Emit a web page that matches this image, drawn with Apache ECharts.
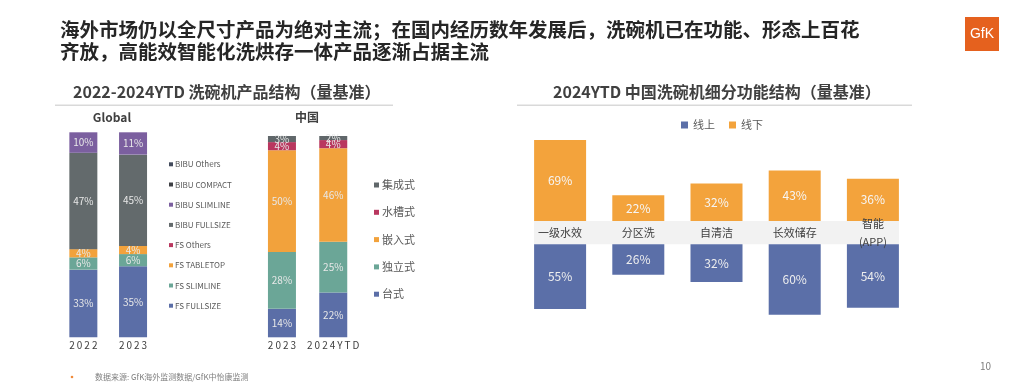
<!DOCTYPE html>
<html>
<head>
<meta charset="utf-8">
<script src="https://cdn.jsdelivr.net/npm/echarts@6/dist/echarts.min.js"></script>
<style>html,body{margin:0;padding:0;background:#fff}#c{width:1024px;height:388px}</style>
</head>
<body>
<div id="c"></div>
<script>
// ---- data ----
const globalCats = ['2022', '2023'];
const globalNames = ['FS FULLSIZE', 'FS SLIMLINE', 'FS TABLETOP', 'FS Others', 'BIBU FULLSIZE', 'BIBU SLIMLINE', 'BIBU COMPACT', 'BIBU Others'];
const fsFullsize = [33, 35];
const fsSlimline = [6, 6];
const fsTabletop = [4, 4];
const fsOthers = [0, 0];
const bibuFullsize = [47, 45];
const bibuSlimline = [10, 11];
const bibuCompact = [0, 0];
const bibuOthers = [0, 0];

const cnCats = ['2023', '2024YTD'];
const cnNames = ['台式', '独立式', '嵌入式', '水槽式', '集成式'];
const cnTaishi = [14, 22];
const cnDuli = [28, 25];
const cnQianru = [50, 46];
const cnShuicao = [4, 4];
const cnJicheng = [3, 2];

const funcCats = ['一级水效', '分区洗', '自清洁', '长效储存', '智能\n(APP)'];
const online = [55, 26, 32, 60, 54];
const offline = [69, 22, 32, 43, 36];

// ---- styles ----
const FONT = '"Noto Sans CJK SC", "Noto Sans", sans-serif';
const globalColors = ['#5b6ea7', '#6ba697', '#f2a23c', '#b9375f', '#636a6c', '#7b5f9f', '#3d3f44', '#434b5c'];
const cnColors = ['#5b6ea7', '#6ba697', '#f2a23c', '#b9375f', '#60676a'];
const BLUE = '#5b6fa8', ORANGE = '#f3a33c';

function spaced(s) { return s.split('').join('\u2009'); }

function stackSeries(names, arrays, colors, xi, yi) {
  const n = arrays[0].length;
  const totals = [];
  for (let i = 0; i < n; i++) { let t = 0; arrays.forEach(a => t += a[i]); totals.push(t); }
  return names.map((name, k) => ({
    name, type: 'bar', stack: 's' + xi, xAxisIndex: xi, yAxisIndex: yi,
    barWidth: 28, itemStyle: { color: colors[k] },
    data: arrays[k].map((v, i) => ({ value: v / totals[i] * 100, raw: v })),
    label: {
      show: true, position: 'inside', color: '#e8e8e8', fontSize: 10, fontFamily: FONT,
      formatter: p => p.data.raw > 0 ? p.data.raw + '%' : ''
    }
  }));
}

const chart = echarts.init(document.getElementById('c'), null, { renderer: 'canvas' });

const series = [].concat(
  stackSeries(globalNames, [fsFullsize, fsSlimline, fsTabletop, fsOthers, bibuFullsize, bibuSlimline, bibuCompact, bibuOthers], globalColors, 0, 0),
  stackSeries(cnNames, [cnTaishi, cnDuli, cnQianru, cnShuicao, cnJicheng], cnColors, 1, 1),
  [
    {
      name: '线上', type: 'bar', xAxisIndex: 3, yAxisIndex: 3, barWidth: 52,
      itemStyle: { color: BLUE }, data: online,
      label: { show: true, position: 'inside', color: '#eeeeee', fontSize: 12, fontFamily: FONT, formatter: '{c}%' }
    },
    {
      name: '线下', type: 'bar', xAxisIndex: 2, yAxisIndex: 2, barWidth: 52,
      itemStyle: { color: ORANGE }, data: offline,
      label: { show: true, position: 'inside', color: '#f6f6f6', fontSize: 12, fontFamily: FONT, formatter: '{c}%' }
    }
  ]
);

const legendText = { color: '#595959', fontFamily: FONT };

chart.setOption({
  animation: false,
  backgroundColor: '#ffffff',
  title: [
    { text: '海外市场仍以全尺寸产品为绝对主流；在国内经历数年发展后，洗碗机已在功能、形态上百花\n齐放，高能效智能化洗烘存一体产品逐渐占据主流',
      left: 60, top: 19, padding: 0,
      textStyle: { fontSize: 19.5, fontWeight: 'bold', color: '#262626', lineHeight: 22, fontFamily: FONT } },
    { text: '2022-2024YTD 洗碗机产品结构（量基准）', left: 73, top: 82, padding: 0,
      textStyle: { fontSize: 16, fontWeight: 'bold', color: '#404040', lineHeight: 20, fontFamily: FONT } },
    { text: '2024YTD 中国洗碗机细分功能结构（量基准）', left: 553, top: 82, padding: 0,
      textStyle: { fontSize: 16, fontWeight: 'bold', color: '#404040', lineHeight: 20, fontFamily: FONT } },
    { text: 'Global', left: 112, top: 110, textAlign: 'center', padding: 0,
      textStyle: { fontSize: 12, fontWeight: 'bold', color: '#404040', lineHeight: 14, fontFamily: FONT } },
    { text: '中国', left: 307, top: 110, textAlign: 'center', padding: 0,
      textStyle: { fontSize: 12, fontWeight: 'bold', color: '#404040', lineHeight: 14, fontFamily: FONT } },
    { text: '数据来源: GfK海外监测数据/GfK中怡康监测', left: 95, top: 372, padding: 0,
      textStyle: { fontSize: 8, fontWeight: 'normal', color: '#7f7f7f', lineHeight: 10, fontFamily: FONT } },
    { text: '10', left: 980, top: 360, padding: 0,
      textStyle: { fontSize: 10, fontWeight: 'normal', color: '#7f7f7f', lineHeight: 12, fontFamily: FONT } }
  ],
  legend: [
    { data: globalNames.slice().reverse(), orient: 'vertical', left: 169, top: 159.3, padding: 0,
      itemWidth: 4, itemHeight: 4, itemGap: 10.2, icon: 'rect', selectedMode: false,
      textStyle: Object.assign({ fontSize: 8, lineHeight: 10, padding: [0, 0, 0, -3] }, legendText) },
    { data: cnNames.slice().reverse(), orient: 'vertical', left: 374, top: 179, padding: 0,
      itemWidth: 5, itemHeight: 5, itemGap: 15.3, icon: 'rect', selectedMode: false,
      textStyle: Object.assign({ fontSize: 11, lineHeight: 12, padding: [0, 0, 0, -2] }, legendText) },
    { data: ['线上', '线下'], orient: 'horizontal', left: 681, top: 118, padding: 0,
      itemWidth: 7, itemHeight: 7, itemGap: 14, icon: 'rect', selectedMode: false,
      textStyle: Object.assign({ fontSize: 11, lineHeight: 14 }, legendText) }
  ],
  grid: [
    { left: 58.5, top: 132.3, width: 99.4, height: 205 },
    { left: 256.3, top: 136, width: 102.6, height: 201.3 },
    { left: 521, top: 138.75, width: 391, height: 82.25 },
    { left: 521, top: 244.3, width: 391, height: 82.25 },
    { left: 534, top: 221, width: 365, height: 23.3, show: true, backgroundColor: '#f2f2f2', borderWidth: 0, z: -1 }
  ],
  xAxis: [
    { type: 'category', gridIndex: 0, data: globalCats, axisLine: { show: false }, axisTick: { show: false },
      axisLabel: { interval: 0, margin: 3, fontSize: 10, color: '#404040', fontFamily: FONT, formatter: spaced } },
    { type: 'category', gridIndex: 1, data: cnCats, axisLine: { show: false }, axisTick: { show: false },
      axisLabel: { interval: 0, hideOverlap: false, margin: 3, fontSize: 10, color: '#404040', fontFamily: FONT, formatter: spaced } },
    { type: 'category', gridIndex: 2, data: funcCats, axisLine: { show: false }, axisTick: { show: false }, z: 5,
      axisLabel: { interval: 0, margin: 11.7, verticalAlign: 'middle', fontSize: 11, lineHeight: 18, color: '#404040', fontFamily: FONT } },
    { type: 'category', gridIndex: 3, data: funcCats, show: false },
    { type: 'category', gridIndex: 4, data: funcCats, show: false }
  ],
  yAxis: [
    { type: 'value', gridIndex: 0, min: 0, max: 100, show: false },
    { type: 'value', gridIndex: 1, min: 0, max: 100, show: false },
    { type: 'value', gridIndex: 2, min: 0, max: 70, show: false },
    { type: 'value', gridIndex: 3, min: 0, max: 70, inverse: true, show: false },
    { type: 'value', gridIndex: 4, min: 0, max: 1, show: false }
  ],
  graphic: [
    { type: 'rect', shape: { x: 55, y: 104.5, width: 338, height: 1.5 }, style: { fill: '#d9d9d9' }, silent: true },
    { type: 'rect', shape: { x: 517, y: 104.5, width: 395, height: 1.5 }, style: { fill: '#d9d9d9' }, silent: true },
    { type: 'rect', shape: { x: 965, y: 17, width: 34, height: 34 }, style: { fill: '#e5611e' }, silent: true },
    { type: 'text', x: 982, y: 34, style: { text: 'GfK', fill: '#ffffff', font: '14px "Liberation Sans", sans-serif', align: 'center', verticalAlign: 'middle' }, silent: true },
    { type: 'circle', shape: { cx: 72, cy: 377, r: 1.3 }, style: { fill: '#f08a3a' }, silent: true }
  ],
  series
});
</script>
</body>
</html>
